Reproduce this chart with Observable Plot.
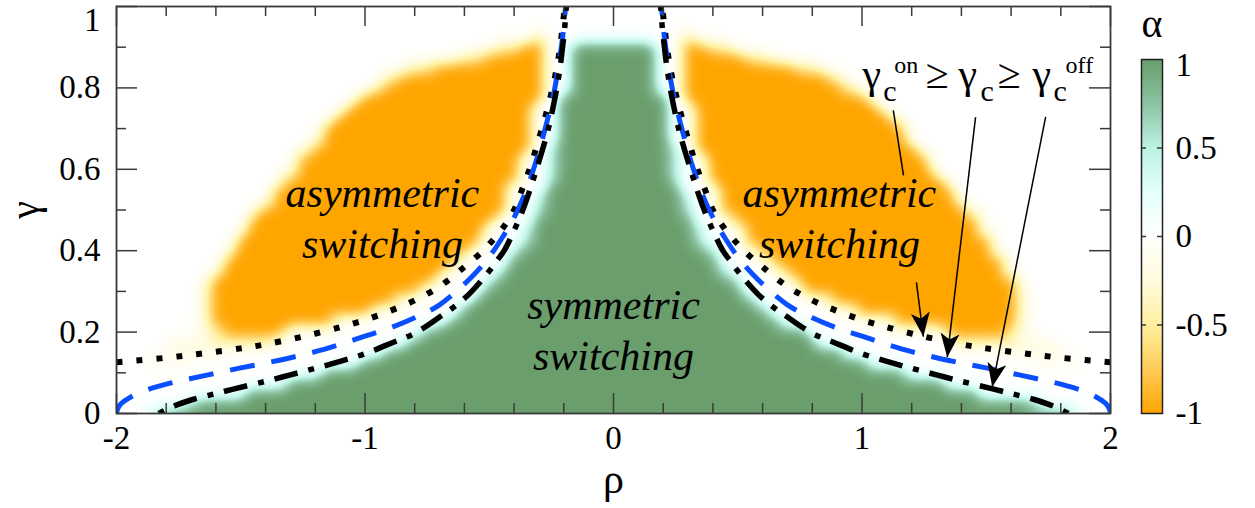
<!DOCTYPE html>
<html>
<head>
<meta charset="utf-8">
<script src="https://cdn.jsdelivr.net/npm/d3@7"></script>
<script src="https://cdn.jsdelivr.net/npm/@observablehq/plot@0.6"></script>
<style>
  html, body { margin: 0; padding: 0; background: #fff; }
  #wrap { position: relative; width: 1255px; height: 508px; overflow: hidden; background: #fff; }
  #main { position: absolute; left: 0; top: 0; width: 1255px; }
  #bar { position: absolute; left: 1130px; top: 0; width: 125px; }
</style>
</head>
<body>
<div id="wrap"><div id="main"></div><div id="bar"></div></div>
<script>
const FONT = "'Liberation Serif', 'Times New Roman', Times, serif";

// ---- α map ----
// rows: γ = 1.000 (top) down to 0.000, step 0.025
// columns: ρ = 0.00 .. 2.00, step 0.05 (the map is mirror-symmetric in ρ)
// G = 1, c = 0.5, . = 0, l = -0.2, y = -0.45, O = -1
const alphaLevels = {"G": 1, "c": 0.5, ".": 0, "l": -0.2, "y": -0.45, "O": -1};
const alphaRows = [
  ".........................................", // 1.000
  ".........................................", // 0.975
  ".........................................", // 0.950
  "......y..................................", // 0.925
  "GGGG..OOyy...............................", // 0.900
  "GGGG..OOOOOyy............................", // 0.875
  "GGGG..OOOOOOOOOyy........................", // 0.850
  "GGGG..OOOOOOOOOOOOy......................", // 0.825
  "GGGG..OOOOOOOOOOOOOy.....................", // 0.800
  "GGGGG.OOOOOOOOOOOOOOO....................", // 0.775
  "GGGGG..OOOOOOOOOOOOOOO...................", // 0.750
  "GGGGG..OOOOOOOOOOOOOOOO..................", // 0.725
  "GGGGG..OOOOOOOOOOOOOOOOO.................", // 0.700
  "GGGGG..OOOOOOOOOOOOOOOOO.................", // 0.675
  "GGGGGc.OOOOOOOOOOOOOOOOOO................", // 0.650
  "GGGGGc..OOOOOOOOOOOOOOOOOO...............", // 0.625
  "GGGGGc..OOOOOOOOOOOOOOOOOO...............", // 0.600
  "GGGGGc..OOOOOOOOOOOOOOOOOOO..............", // 0.575
  "GGGGGG...OOOOOOOOOOOOOOOOOOO.............", // 0.550
  "GGGGGGc..OOOOOOOOOOOOOOOOOOO.............", // 0.525
  "GGGGGGc..OOOOOOOOOOOOOOOOOOOO............", // 0.500
  "GGGGGGG...OOOOOOOOOOOOOOOOOOOO...........", // 0.475
  "GGGGGGGc...OOOOOOOOOOOOOOOOOOO...........", // 0.450
  "GGGGGGGc...OOOOOOOOOOOOOOOOOOOO..........", // 0.425
  "GGGGGGGGc...OOOOOOOOOOOOOOOOOOO..........", // 0.400
  "GGGGGGGGG....OOOOOOOOOOOOOOOOOOO.........", // 0.375
  "GGGGGGGGGc....OOOOOOOOOOOOOOOOOO.........", // 0.350
  "GGGGGGGGGGc....OOOOOOOOOOOOOOOOOO........", // 0.325
  "GGGGGGGGGGG.....OOOOOOOOOOOOOOOOOl.......", // 0.300
  "GGGGGGGGGGGG......OOOOOOOOOOOOOOOl.......", // 0.275
  "GGGGGGGGGGGGG.......OOOOOOOOOOOOOl.......", // 0.250
  "GGGGGGGGGGGGGG.........OOOOOOOOOOl.......", // 0.225
  "GGGGGGGGGGGGGGGG...........OOOOOyl.......", // 0.200
  "GGGGGGGGGGGGGGGGG...........yyyyylll.....", // 0.175
  "GGGGGGGGGGGGGGGGGGG.............lllll....", // 0.150
  "GGGGGGGGGGGGGGGGGGGGG..............l.l...", // 0.125
  "GGGGGGGGGGGGGGGGGGGGGGGG.................", // 0.100
  "GGGGGGGGGGGGGGGGGGGGGGGGGGG..............", // 0.075
  "GGGGGGGGGGGGGGGGGGGGGGGGGGGGGG...........", // 0.050
  "GGGGGGGGGGGGGGGGGGGGGGGGGGGGGGGGGGc......", // 0.025
  "GGGGGGGGGGGGGGGGGGGGGGGGGGGGGGGGGGGGGc..."  // 0.000
];
const gammaTop = 1, gammaStep = 0.025, rhoStep = 0.05;
const smoothRadius = 6; // px, softening of the α map edges

// ---- critical curves (ρ >= 0 half, listed from the bottom/outer end; mirrored for ρ < 0) : [ρ, γ] ----
const gammaOnCurve = [[2.0,0.126],[1.8,0.137],[1.65,0.148],[1.5,0.16],[1.4,0.17],[1.25,0.189],[1.1,0.212],[1.0,0.23],[0.90,0.252],[0.80,0.278],[0.70,0.312],[0.60,0.36],[0.525,0.4],[0.48,0.43],[0.44,0.46],[0.40,0.5],[0.368,0.55],[0.338,0.6],[0.312,0.65],[0.288,0.7],[0.265,0.75],[0.245,0.8],[0.228,0.85],[0.215,0.9],[0.205,0.95],[0.196,1.0]];
const gammaCCurve = [[2.0,0],[1.995,0.012],[1.98,0.025],[1.95,0.038],[1.9,0.053],[1.8,0.072],[1.7,0.086],[1.6,0.099],[1.5,0.112],[1.4,0.124],[1.3,0.137],[1.2,0.152],[1.1,0.17],[1.0,0.19],[0.90,0.21],[0.80,0.235],[0.70,0.267],[0.58,0.33],[0.50,0.385],[0.45,0.43],[0.42,0.46],[0.385,0.5],[0.35,0.55],[0.322,0.6],[0.297,0.65],[0.275,0.7],[0.254,0.75],[0.236,0.8],[0.222,0.85],[0.21,0.9],[0.2,0.95],[0.193,1.0]];
const gammaOffCurve = [[1.83,0],[1.77,0.018],[1.69,0.035],[1.6,0.049],[1.53,0.06],[1.4,0.079],[1.3,0.095],[1.2,0.111],[1.1,0.128],[1.0,0.147],[0.886,0.175],[0.80,0.197],[0.70,0.237],[0.65,0.258],[0.58,0.294],[0.50,0.35],[0.47,0.375],[0.44,0.4],[0.40,0.45],[0.365,0.5],[0.336,0.55],[0.31,0.6],[0.285,0.65],[0.262,0.7],[0.244,0.75],[0.228,0.8],[0.215,0.85],[0.205,0.9],[0.196,0.95],[0.19,1.0]];

// ---- ticks ----
const xMajor = [-2, -1, 0, 1, 2];
const xMinor = [-1.8,-1.6,-1.4,-1.2,-0.8,-0.6,-0.4,-0.2,0.2,0.4,0.6,0.8,1.2,1.4,1.6,1.8];
const yMajor = [0, 0.2, 0.4, 0.6, 0.8, 1];
const yMinor = [0.1, 0.3, 0.5, 0.7, 0.9];
const yLabelTicks = [0, 0.2, 0.4, 0.6, 0.8];
const yTopLabel = ["1"];
const barTicks = [-1, -0.5, 0, 0.5];
const barTopLabel = ["1"];
const barInnerTicks = [-0.5, 0, 0.5];

// ---- annotations ----
const regionLabels = [
  {label: "asymmetric\nswitching", rho: -0.93, gamma: 0.381},
  {label: "asymmetric\nswitching", rho: 0.909, gamma: 0.381},
  {label: "symmetric\nswitching", rho: 0.0, gamma: 0.106}
];
const legendGreek = [
  {t: "γ", rho: 1.0016, gamma: 0.7993}, {t: "≥", rho: 1.2553, gamma: 0.7993},
  {t: "γ", rho: 1.388, gamma: 0.7993}, {t: "≥", rho: 1.545, gamma: 0.7993},
  {t: "γ", rho: 1.686, gamma: 0.7993}
];
const legendSub = [
  {t: "c", rho: 1.0857, gamma: 0.7673}, {t: "c", rho: 1.4767, gamma: 0.7673}, {t: "c", rho: 1.7707, gamma: 0.7673}
];
const legendSup = [
  {t: "on", rho: 1.1301, gamma: 0.8362}, {t: "off", rho: 1.8192, gamma: 0.8362}
];
const pointerLines = [{x1: 1.126, y1: 0.745, x2: 1.167, y2: 0.585}];
const pointerArrows = [
  {x1: 1.219, y1: 0.322, x2: 1.247, y2: 0.189},
  {x1: 1.457, y1: 0.728, x2: 1.343, y2: 0.138},
  {x1: 1.739, y1: 0.729, x2: 1.524, y2: 0.065}
];

// ---- colour palette ----
const colorDomain = [-1, -0.75, -0.5, -0.25, 0, 0.25, 0.5, 0.75, 1];
const colorRange = ["#ffa500", "#ffcb58", "#fff0a0", "#fffbdc", "#ffffff", "#e4fffb", "#bdf2e4", "#8cc4a3", "#6a9e6d"];

// ---- build tables ----
const cells = [];
alphaRows.forEach((row, i) => {
  const gamma = +(gammaTop - i * gammaStep).toFixed(4);
  const n = row.length - 1;
  for (let j = -n; j <= n; j++) {
    cells.push({rho: +(j * rhoStep).toFixed(4), gamma, alpha: alphaLevels[row[Math.abs(j)]]});
  }
});
function mirrored(half) {
  return half.map(([r, g]) => ({rho: r, gamma: g, side: "R"}))
    .concat(half.map(([r, g]) => ({rho: -r, gamma: g, side: "L"})));
}
const onData = mirrored(gammaOnCurve);
const cData = mirrored(gammaCCurve);
const offData = mirrored(gammaOffCurve);

const color = {type: "linear", domain: colorDomain, range: colorRange, interpolate: d3.interpolateRgb};

// barycentric interpolation of the α samples, softened on the α values (so edge colours follow the palette)
const baryBase = Plot.interpolatorBarycentric ? Plot.interpolatorBarycentric() : "barycentric";
const smoothBarycentric = typeof baryBase === "function"
  ? (index, w, h, X, Y, V) => {
      const out = Float64Array.from(baryBase(index, w, h, X, Y, V), v => (v == null || isNaN(v)) ? 0 : v);
      d3.blur2({data: out, width: w, height: h}, smoothRadius);
      return out;
    }
  : "barycentric";

function filledHead(col) {
  const m = d3.create("svg:marker")
    .attr("viewBox", "-26 -11 28 22")
    .attr("markerWidth", 28).attr("markerHeight", 22)
    .attr("markerUnits", "userSpaceOnUse")
    .attr("orient", "auto")
    .attr("refX", 0).attr("refY", 0);
  m.append("path").attr("d", "M0,0L-24,-9.5L-18,0L-24,9.5Z").attr("fill", col).attr("stroke", "none");
  return m.node();
}

const W = 1255, H = 508, ML = 116, MR = 145, MT = 6, MB = 95;
const FW = W - ML - MR, FH = H - MT - MB;
const AX = "#3a3a3a";

const main = Plot.plot({
  width: W, height: H,
  marginLeft: ML, marginRight: MR, marginTop: MT, marginBottom: MB,
  x: {domain: [-2, 2]},
  y: {domain: [0, 1]},
  color,
  style: {fontFamily: FONT, fontSize: "33px", background: "#fff", color: "#000", overflow: "visible"},
  marks: [
    Plot.raster(cells, {x: "rho", y: "gamma", fill: "alpha", interpolate: smoothBarycentric}),
    Plot.line(onData, {x: "rho", y: "gamma", z: "side", stroke: "#000", strokeWidth: 6, strokeDasharray: "6,14", strokeLinecap: "butt", curve: "catmull-rom", clip: true}),
    Plot.line(cData, {x: "rho", y: "gamma", z: "side", stroke: "#0a4fff", strokeWidth: 5, strokeDasharray: "25,17", strokeLinecap: "butt", curve: "catmull-rom", clip: true}),
    Plot.line(offData, {x: "rho", y: "gamma", z: "side", stroke: "#000", strokeWidth: 5.5, strokeDasharray: "6,11,24,11", strokeLinecap: "butt", curve: "catmull-rom", clip: true}),
    Plot.tickX(xMajor, {x: d => d, insetTop: FH - 20, stroke: AX, strokeWidth: 1.5}),
    Plot.tickX(xMajor, {x: d => d, insetBottom: FH - 20, stroke: AX, strokeWidth: 1.5}),
    Plot.tickX(xMinor, {x: d => d, insetTop: FH - 10, stroke: AX, strokeWidth: 1.5}),
    Plot.tickX(xMinor, {x: d => d, insetBottom: FH - 10, stroke: AX, strokeWidth: 1.5}),
    Plot.tickY(yMajor, {y: d => d, insetRight: FW - 21, stroke: AX, strokeWidth: 1.5}),
    Plot.tickY(yMajor, {y: d => d, insetLeft: FW - 21, stroke: AX, strokeWidth: 1.5}),
    Plot.tickY(yMinor, {y: d => d, insetRight: FW - 10, stroke: AX, strokeWidth: 1.5}),
    Plot.tickY(yMinor, {y: d => d, insetLeft: FW - 10, stroke: AX, strokeWidth: 1.5}),
    Plot.frame({stroke: AX, strokeWidth: 1.8}),
    Plot.axisX(xMajor, {tickSize: 0, tickPadding: 12, tickFormat: d => String(d), label: null}),
    Plot.axisY(yLabelTicks, {tickSize: 0, tickPadding: 16, tickFormat: d => String(d), label: null}),
    Plot.text(yTopLabel, {frameAnchor: "top-left", dx: -16, dy: 1, textAnchor: "end", lineAnchor: "top"}),
    Plot.text(["ρ"], {frameAnchor: "bottom", dy: 79, lineAnchor: "bottom", textAnchor: "middle", fontSize: 42}),
    Plot.text(["γ"], {frameAnchor: "left", dx: -79, rotate: -90, lineAnchor: "bottom", textAnchor: "middle", fontSize: 40}),
    Plot.text(regionLabels, {x: "rho", y: "gamma", text: "label", fontSize: 42, fontStyle: "italic", lineAnchor: "bottom", lineHeight: 1.22, textAnchor: "middle", fill: "#000"}),
    Plot.link(pointerLines, {x1: "x1", y1: "y1", x2: "x2", y2: "y2", stroke: "#000", strokeWidth: 1.5}),
    Plot.link(pointerArrows, {x1: "x1", y1: "y1", x2: "x2", y2: "y2", stroke: "#000", strokeWidth: 1.5, markerEnd: filledHead}),
    Plot.text(legendGreek, {x: "rho", y: "gamma", text: "t", fontSize: 42, textAnchor: "start", lineAnchor: "bottom", fill: "#000"}),
    Plot.text(legendSub, {x: "rho", y: "gamma", text: "t", fontSize: 30, textAnchor: "start", lineAnchor: "bottom", fill: "#000"}),
    Plot.text(legendSup, {x: "rho", y: "gamma", text: "t", fontSize: 24, textAnchor: "start", lineAnchor: "bottom", fill: "#000"})
  ]
});
document.getElementById("main").appendChild(main);

const bar = Plot.plot({
  width: 125, height: 440,
  marginLeft: 11, marginRight: 93, marginTop: 59, marginBottom: 27,
  x: {domain: [0, 1], axis: null},
  y: {domain: [-1, 1]},
  color,
  style: {fontFamily: FONT, fontSize: "33px", background: "transparent", color: "#000", overflow: "visible"},
  marks: [
    Plot.raster({x1: 0, x2: 1, y1: -1, y2: 1, fill: (x, y) => y}),
    Plot.tickY(barInnerTicks, {y: d => d, insetRight: 16, stroke: AX, strokeWidth: 1.5}),
    Plot.tickY(barInnerTicks, {y: d => d, insetLeft: 16, stroke: AX, strokeWidth: 1.5}),
    Plot.frame({stroke: "#222", strokeWidth: 1.5}),
    Plot.axisY(barTicks, {anchor: "right", tickSize: 0, tickPadding: 13, tickFormat: d => String(d), label: null}),
    Plot.text(barTopLabel, {frameAnchor: "top-right", dx: 13, dy: 6, textAnchor: "start", lineAnchor: "middle"}),
    Plot.text(["α"], {frameAnchor: "top", dy: -23, lineAnchor: "bottom", textAnchor: "middle", fontSize: 40})
  ]
});
document.getElementById("bar").appendChild(bar);
</script>
</body>
</html>
